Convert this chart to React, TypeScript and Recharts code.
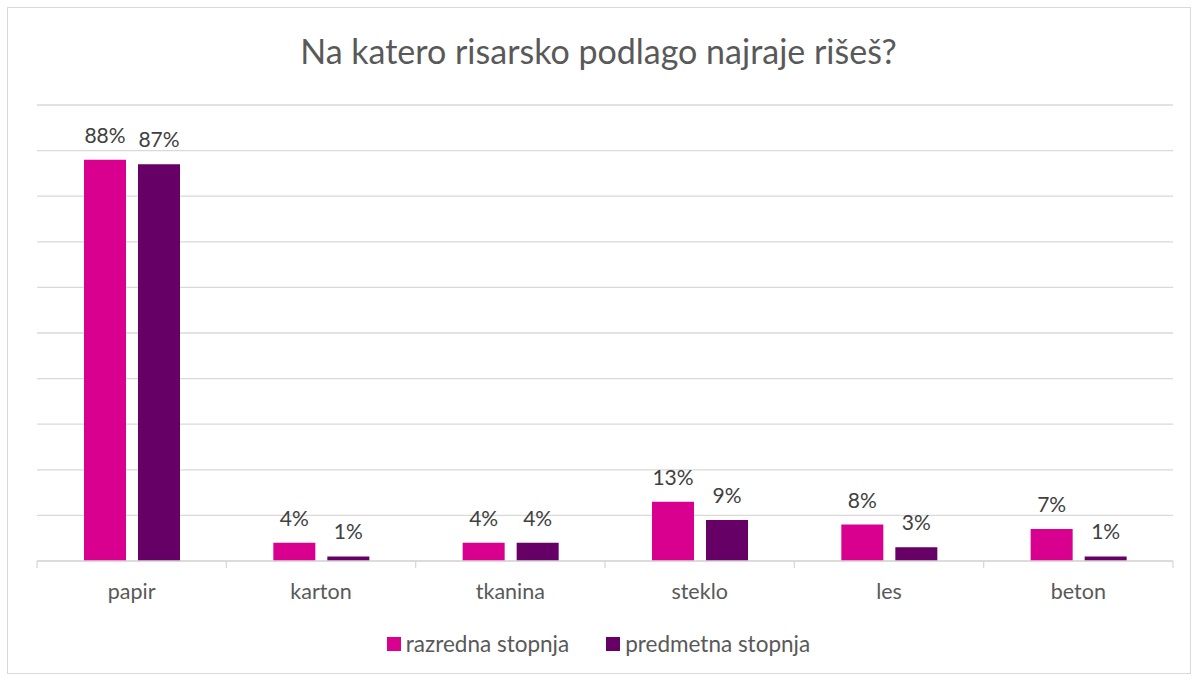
import { BarChart, Bar, XAxis, YAxis, CartesianGrid, LabelList } from 'recharts'

const categories = ['papir', 'karton', 'tkanina', 'steklo', 'les', 'beton']
const razredna = [88, 4, 4, 13, 8, 7]
const predmetna = [87, 1, 4, 9, 3, 1]
const yTicks = [0, 10, 20, 30, 40, 50, 60, 70, 80, 90, 100]

const SERIES = [
  { key: 'razredna', name: 'razredna stopnja', color: '#d9008f' },
  { key: 'predmetna', name: 'predmetna stopnja', color: '#660066' },
]

const FONT = 'Lato, "Open Sans", sans-serif'
const GRID = '#d9d9d9'
const TICK_GAP = 23

const data = categories.map((c, i) => ({ name: c, razredna: razredna[i], predmetna: predmetna[i] }))

const emptyTick = () => <g />

// category label plus the small marks between categories (Excel style)
function CategoryTick(props: any) {
  const { x, y, payload, index, visibleTicksCount } = props
  const half = payload.offset || 0
  const y0 = y - TICK_GAP
  return (
    <g>
      <line x1={x - half} x2={x - half} y1={y0} y2={y0 + 7} stroke={GRID} strokeWidth={1.3} />
      {index === visibleTicksCount - 1 && (
        <line x1={x + half} x2={x + half} y1={y0} y2={y0 + 7} stroke={GRID} strokeWidth={1.3} />
      )}
      <text x={x} y={y} dy="0.71em" textAnchor="middle" fill="#595959" fontSize={21.5} fontFamily={FONT}>
        {payload.value}
      </text>
    </g>
  )
}

export default function App() {
  return (
    <div style={{ position: 'absolute', left: 0, top: 0, width: 1197, height: 680, background: '#fff', fontFamily: FONT }}>
      <div style={{ position: 'absolute', left: 7, top: 7, width: 1182, height: 665, border: '1px solid #d9d9d9' }} />
      <div style={{ position: 'absolute', left: 0, top: 30, width: 1197, textAlign: 'center', fontSize: 34, color: '#595959' }}>
        Na katero risarsko podlago najraje rišeš?
      </div>
      <div style={{ position: 'absolute', left: 0, top: 0 }}>
        <BarChart width={1197} height={680} data={data} margin={{ top: 105, right: 24, bottom: 89, left: 37 }} barGap={12}>
          <CartesianGrid vertical={false} stroke={GRID} strokeWidth={1.3} />
          <YAxis width={0} domain={[0, 100]} ticks={yTicks} tick={emptyTick} axisLine={false} tickLine={false} />
          <XAxis dataKey="name" height={30} axisLine={{ stroke: GRID, strokeWidth: 1.3 }} tickLine={false}
            tickSize={0} tickMargin={TICK_GAP} interval={0} tick={<CategoryTick />} />
          {SERIES.map((s) => (
            <Bar key={s.key} dataKey={s.key} name={s.name} fill={s.color} barSize={42} isAnimationActive={false}>
              <LabelList dataKey={s.key} position="top" offset={17} formatter={(v: any) => `${v}%`}
                style={{ fill: '#404040', fontSize: 21, fontFamily: FONT }} />
            </Bar>
          ))}
        </BarChart>
      </div>
      <div style={{ position: 'absolute', left: 0, top: 630, width: 1197, display: 'flex', justifyContent: 'center', gap: 37, fontSize: 22.5, color: '#595959' }}>
        {SERIES.map((s) => (
          <div key={s.key} style={{ display: 'flex', alignItems: 'center', gap: 5 }}>
            <span style={{ display: 'inline-block', width: 14, height: 14, background: s.color }} />
            <span>{s.name}</span>
          </div>
        ))}
      </div>
    </div>
  )
}
